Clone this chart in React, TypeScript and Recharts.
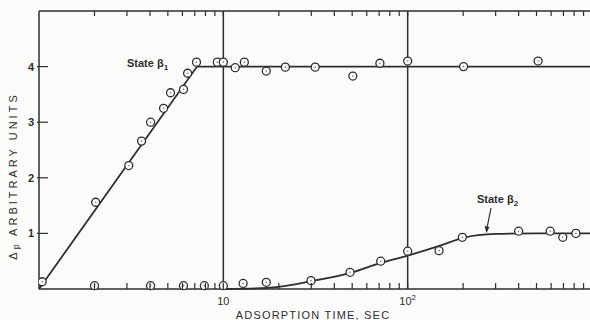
import { ComposedChart, Line, Scatter, XAxis, YAxis, ReferenceLine, Customized } from "recharts";

// State beta1 measured points [time sec, delta p]
const beta1Points = [
  { x: 1.04, y: 0.13 }, { x: 2.03, y: 1.56 }, { x: 3.07, y: 2.22 }, { x: 3.6, y: 2.66 },
  { x: 4.03, y: 3.0 }, { x: 4.74, y: 3.25 }, { x: 5.17, y: 3.53 }, { x: 6.08, y: 3.59 },
  { x: 6.4, y: 3.88 }, { x: 7.15, y: 4.08 }, { x: 9.28, y: 4.08 }, { x: 10, y: 4.08 },
  { x: 11.6, y: 3.98 }, { x: 13.0, y: 4.08 }, { x: 17.1, y: 3.92 }, { x: 21.7, y: 3.99 },
  { x: 31.5, y: 3.99 }, { x: 50.4, y: 3.83 }, { x: 70.7, y: 4.06 }, { x: 100, y: 4.1 },
  { x: 201, y: 4.0 }, { x: 510, y: 4.1 },
];
const beta1Curve = [{ x: 1, y: 0 }, { x: 7.2, y: 4.0 }, { x: 1000, y: 4.0 }];

// State beta2 measured points
const beta2Points = [
  { x: 2.0, y: 0.06 }, { x: 4.03, y: 0.06 }, { x: 6.08, y: 0.06 }, { x: 7.89, y: 0.06 },
  { x: 10, y: 0.06 }, { x: 12.8, y: 0.1 }, { x: 17.1, y: 0.12 }, { x: 29.9, y: 0.15 },
  { x: 48.7, y: 0.3 }, { x: 71.4, y: 0.5 }, { x: 100, y: 0.68 }, { x: 148, y: 0.69 },
  { x: 198, y: 0.93 }, { x: 400, y: 1.04 }, { x: 593, y: 1.04 }, { x: 694, y: 0.93 },
  { x: 818, y: 1.0 },
];
const beta2Curve = [
  { x: 10, y: 0 }, { x: 15, y: 0.01 }, { x: 20, y: 0.04 }, { x: 30, y: 0.14 },
  { x: 50, y: 0.3 }, { x: 70, y: 0.46 }, { x: 100, y: 0.6 }, { x: 150, y: 0.78 },
  { x: 200, y: 0.92 }, { x: 300, y: 0.99 }, { x: 500, y: 1.0 }, { x: 1000, y: 1.0 },
];

const xTicks = [1, 2, 3, 4, 5, 6, 7, 8, 9, 10, 20, 30, 40, 50, 60, 70, 80, 90, 100, 200, 300, 400, 500, 600, 700, 800, 900, 1000];
const xTickLabels: Record<number, string> = { 10: "10", 100: "10" };
const yTicks = [0, 1, 2, 3, 4, 5];
const yTickLabels = ["1", "2", "3", "4"];

const INK = "#2e2e2e";
const FONT = "'Liberation Sans', Arial, sans-serif";

const BottomTick = (props: any) => {
  const { x, y, payload } = props;
  const v = payload.value;
  const lbl = xTickLabels[v];
  return (
    <g>
      {v !== 1 && v !== 1000 && <line x1={x} x2={x} y1={y} y2={y - 6} stroke={INK} strokeWidth={1.2} />}
      {lbl && (
        <text x={x} y={y + 16} textAnchor="middle" fontSize={11} fill={INK} fontFamily={FONT}>
          {lbl}
          {v === 100 && <tspan dy={-5} fontSize={8}>2</tspan>}
        </text>
      )}
    </g>
  );
};

const TopTick = (props: any) => {
  const { x, y, payload } = props;
  const v = payload.value;
  if (v === 1 || v === 1000) return <g />;
  return <line x1={x} x2={x} y1={y} y2={y + 5} stroke={INK} strokeWidth={1.2} />;
};

const LeftTick = (props: any) => {
  const { x, y, payload } = props;
  const v = payload.value;
  if (v === 0 || v === 5) return <g />;
  return (
    <g>
      <line x1={x - 2} x2={x + 9} y1={y} y2={y} stroke={INK} strokeWidth={1.2} />
      <text x={x - 5} y={y + 4} textAnchor="end" fontSize={11} fontWeight="bold" fill={INK} fontFamily={FONT}>
        {yTickLabels[v - 1]}
      </text>
    </g>
  );
};

const Marker = (props: any) => {
  const { cx, cy } = props;
  return (
    <g>
      <circle cx={cx} cy={cy} r={4} fill="#fbfbfa" stroke={INK} strokeWidth={1.3} />
      <circle cx={cx} cy={cy} r={0.8} fill="#777" />
    </g>
  );
};

const Annotations = () => (
  <g fontFamily={FONT} fill={INK}>
    <text x={127} y={67} fontSize={11} fontWeight="bold">
      State β<tspan dy={3} fontSize={8}>1</tspan>
    </text>
    <text x={477} y={203} fontSize={11} fontWeight="bold">
      State β<tspan dy={3} fontSize={8}>2</tspan>
    </text>
    <line x1={491} y1={208} x2={487} y2={228} stroke={INK} strokeWidth={1.2} />
    <polygon points="484.5,226 489.5,227 486.5,233" fill={INK} />
    <text x={313} y={319} textAnchor="middle" fontSize={11} letterSpacing={1.2}>
      ADSORPTION TIME, SEC
    </text>
    <text x={17} y={176} textAnchor="middle" fontSize={11} letterSpacing={3} transform="rotate(-90 17 176)">
      Δ<tspan fontSize={9} dy={2}>p</tspan>
      <tspan dy={-2}>  ARBITRARY UNITS</tspan>
    </text>
  </g>
);

export default function App() {
  return (
    <div style={{ position: "fixed", left: 0, top: 0, width: 590, height: 320, overflow: "hidden", background: "#fbfbfa" }}>
      <ComposedChart width={600} height={320} margin={{ top: 6, right: 8, left: 9, bottom: 11 }}>
        <XAxis
          xAxisId="b"
          dataKey="x"
          type="number"
          scale="log"
          domain={[1, 1000]}
          ticks={xTicks}
          allowDataOverflow
          height={20}
          tickSize={0}
          tickMargin={0}
          tickLine={false}
          tick={<BottomTick />}
          interval={0}
          axisLine={{ stroke: INK, strokeWidth: 1.5 }}
        />
        <XAxis
          xAxisId="t"
          orientation="top"
          dataKey="x"
          type="number"
          scale="log"
          domain={[1, 1000]}
          ticks={xTicks}
          allowDataOverflow
          height={5}
          tickSize={0}
          tickMargin={0}
          tickLine={false}
          tick={<TopTick />}
          interval={0}
          axisLine={{ stroke: INK, strokeWidth: 1.5 }}
        />
        <YAxis
          dataKey="y"
          type="number"
          domain={[0, 5]}
          ticks={yTicks}
          interval={0}
          width={30}
          tickSize={0}
          tickMargin={0}
          tickLine={false}
          tick={<LeftTick />}
          axisLine={{ stroke: INK, strokeWidth: 1.5 }}
        />
        <ReferenceLine xAxisId="b" x={10} stroke={INK} strokeWidth={1.5} />
        <ReferenceLine xAxisId="b" x={100} stroke={INK} strokeWidth={1.5} />
        <Line xAxisId="b" data={beta1Curve} dataKey="y" type="linear" stroke={INK} strokeWidth={1.8} dot={false} isAnimationActive={false} />
        <Line xAxisId="b" data={beta2Curve} dataKey="y" type="monotone" stroke={INK} strokeWidth={1.8} dot={false} isAnimationActive={false} />
        <Scatter xAxisId="b" data={beta1Points} dataKey="y" shape={<Marker />} isAnimationActive={false} />
        <Scatter xAxisId="b" data={beta2Points} dataKey="y" shape={<Marker />} isAnimationActive={false} />
        <Customized component={<Annotations />} />
      </ComposedChart>
    </div>
  );
}
